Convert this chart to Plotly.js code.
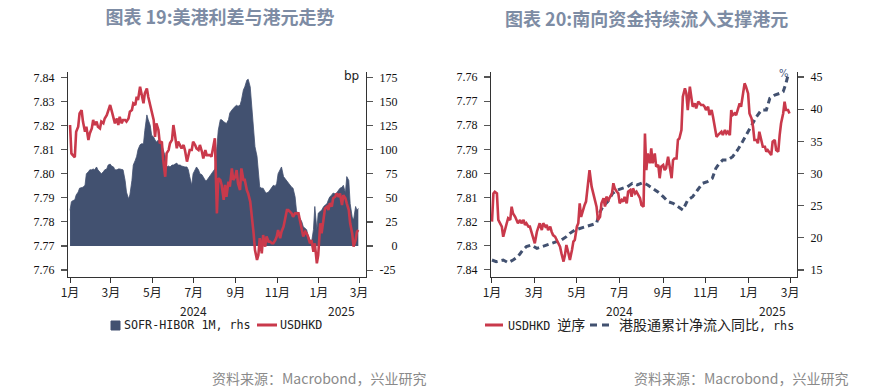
<!DOCTYPE html>
<html>
<head>
<meta charset="utf-8">
<script src="https://cdn.plot.ly/plotly-3.0.1.min.js"></script>
<style>
  html, body { margin: 0; padding: 0; background: #ffffff; }
  #chart { width: 883px; height: 391px; }
</style>
</head>
<body>
<div id="chart"></div>
<script>
// ---------------- DATA ----------------
// Left chart: daily-ish samples, 2024-01 .. 2025-02
const leftDates = [
  '2024-01-01','2024-01-03','2024-01-05','2024-01-08','2024-01-10','2024-01-13','2024-01-15','2024-01-18','2024-01-20','2024-01-23','2024-01-25','2024-01-28','2024-01-30',
  '2024-02-02','2024-02-04','2024-02-06','2024-02-09','2024-02-11','2024-02-14','2024-02-16','2024-02-19','2024-02-21','2024-02-24','2024-02-26','2024-02-29',
  '2024-03-02','2024-03-05','2024-03-07','2024-03-10','2024-03-12','2024-03-14','2024-03-17','2024-03-19','2024-03-22','2024-03-24','2024-03-27','2024-03-29',
  '2024-04-01','2024-04-03','2024-04-06','2024-04-08','2024-04-10','2024-04-13','2024-04-15','2024-04-18','2024-04-20','2024-04-23','2024-04-25','2024-04-28','2024-04-30',
  '2024-05-03','2024-05-05','2024-05-07','2024-05-10','2024-05-12','2024-05-15','2024-05-17','2024-05-20','2024-05-22','2024-05-25','2024-05-27','2024-05-30',
  '2024-06-01','2024-06-03','2024-06-06','2024-06-08','2024-06-11','2024-06-13','2024-06-16','2024-06-18','2024-06-21','2024-06-23','2024-06-25','2024-06-28','2024-06-30',
  '2024-07-03','2024-07-05','2024-07-08','2024-07-10','2024-07-13','2024-07-15','2024-07-18','2024-07-20','2024-07-22','2024-07-25','2024-07-27','2024-07-30',
  '2024-08-01','2024-08-04','2024-08-06','2024-08-09','2024-08-11','2024-08-14','2024-08-16','2024-08-18','2024-08-21','2024-08-23','2024-08-26','2024-08-28','2024-08-31',
  '2024-09-02','2024-09-04','2024-09-07','2024-09-09','2024-09-12','2024-09-14','2024-09-17','2024-09-19','2024-09-22','2024-09-24','2024-09-27','2024-09-29',
  '2024-10-02','2024-10-04','2024-10-06','2024-10-09','2024-10-11','2024-10-14','2024-10-16','2024-10-19','2024-10-21','2024-10-24','2024-10-26','2024-10-29','2024-10-31',
  '2024-11-02','2024-11-05','2024-11-07','2024-11-10','2024-11-12','2024-11-15','2024-11-17','2024-11-19','2024-11-22','2024-11-24','2024-11-27','2024-11-29',
  '2024-12-02','2024-12-04','2024-12-07','2024-12-09','2024-12-12','2024-12-14','2024-12-16','2024-12-19','2024-12-21','2024-12-24','2024-12-26','2024-12-29','2024-12-31',
  '2025-01-03','2025-01-05','2025-01-08','2025-01-10','2025-01-13','2025-01-15','2025-01-17','2025-01-20','2025-01-22','2025-01-25','2025-01-27','2025-01-30',
  '2025-02-01','2025-02-04','2025-02-06','2025-02-09','2025-02-11','2025-02-14','2025-02-16','2025-02-19','2025-02-21','2025-02-24','2025-02-26','2025-02-28'
];
// SOFR-HIBOR 1M spread, bp (right axis)
const sofrHiborSpread = [
  37,46,47,48,53,56,60,61,61,63,75,77,79,
  79,80,79,82,79,77,75,77,79,80,84,85,
  83,82,79,79,80,80,79,79,68,56,49,53,
  68,84,89,93,100,105,106,106,120,136,131,125,115,
  113,110,108,110,108,105,100,93,82,83,82,84,
  84,85,86,84,84,83,82,82,82,79,72,63,75,
  80,82,79,75,74,72,68,68,70,72,75,77,
  80,103,120,131,131,129,128,127,131,138,141,143,145,
  146,145,146,151,162,165,172,173,165,144,120,103,
  93,72,61,60,60,56,55,56,58,61,63,62,65,
  75,80,82,72,70,68,65,63,61,60,51,37,
  30,29,25,20,18,17,11,6,3,17,41,17,34,
  36,37,41,42,44,48,51,53,55,54,55,58,
  60,61,63,55,72,68,44,30,27,41,37,39
];
// USDHKD (left axis of left chart)
const usdhkdLeft = [
  7.8202,7.8084,7.8077,7.8068,7.8174,7.8195,7.8250,7.8264,7.8216,7.8174,7.8195,7.8140,7.8167,
  7.8188,7.8223,7.8202,7.8216,7.8195,7.8188,7.8216,7.8209,7.8229,7.8243,7.8257,7.8285,
  7.8264,7.8236,7.8209,7.8229,7.8202,7.8236,7.8209,7.8223,7.8223,7.8216,7.8229,7.8257,
  7.8264,7.8292,7.8285,7.8319,7.8306,7.8361,7.8326,7.8292,7.8333,7.8354,7.8319,7.8278,7.8250,
  7.8223,7.8153,7.8209,7.8181,7.8126,7.8133,7.8057,7.7987,7.8084,7.8098,7.8126,7.8140,
  7.8202,7.8167,7.8105,7.8133,7.8112,7.8105,7.8119,7.8098,7.8050,7.8070,7.8098,7.8098,7.8133,
  7.8119,7.8105,7.8098,7.8119,7.8091,7.8063,7.8098,7.8077,7.8077,7.8077,7.8070,7.8112,
  7.8147,7.7835,7.7981,7.7974,7.7953,7.7891,7.7953,7.7904,7.7967,7.7946,7.8022,7.7974,7.7987,
  7.8015,7.7960,7.7932,7.8022,7.7974,7.7974,7.7932,7.7918,7.7884,7.7835,7.7752,7.7683,
  7.7642,7.7662,7.7732,7.7669,7.7745,7.7697,7.7739,7.7718,7.7718,7.7711,7.7711,7.7725,7.7739,
  7.7766,7.7732,7.7759,7.7780,7.7808,7.7849,7.7849,7.7842,7.7835,7.7821,7.7835,7.7835,
  7.7835,7.7808,7.7766,7.7739,7.7759,7.7752,7.7739,7.7711,7.7725,7.7676,7.7711,7.7628,7.7662,
  7.7794,7.7752,7.7821,7.7856,7.7863,7.7849,7.7877,7.7863,7.7898,7.7904,7.7918,7.7904,
  7.7918,7.7870,7.7911,7.7898,7.7877,7.7849,7.7794,7.7752,7.7697,7.7725,7.7759,7.7766
];

// Right chart
const rightDates = [
  '2024-01-01','2024-01-03','2024-01-05','2024-01-08','2024-01-10','2024-01-12','2024-01-15','2024-01-17','2024-01-20','2024-01-22','2024-01-24','2024-01-27','2024-01-29','2024-01-31',
  '2024-02-03','2024-02-05','2024-02-07','2024-02-10','2024-02-12','2024-02-15','2024-02-17','2024-02-19','2024-02-22','2024-02-24','2024-02-27','2024-02-29',
  '2024-03-02','2024-03-05','2024-03-07','2024-03-09','2024-03-12','2024-03-14','2024-03-17','2024-03-19','2024-03-21','2024-03-24','2024-03-26','2024-03-28','2024-03-31',
  '2024-04-02','2024-04-04','2024-04-07','2024-04-09','2024-04-12','2024-04-14','2024-04-16','2024-04-19','2024-04-21','2024-04-24','2024-04-26','2024-04-28',
  '2024-05-01','2024-05-03','2024-05-05','2024-05-07','2024-05-10','2024-05-12','2024-05-14','2024-05-17','2024-05-19','2024-05-22','2024-05-24','2024-05-26','2024-05-29','2024-05-31',
  '2024-06-03','2024-06-05','2024-06-08','2024-06-10','2024-06-12','2024-06-15','2024-06-17','2024-06-20','2024-06-22','2024-06-24','2024-06-27','2024-06-29',
  '2024-07-01','2024-07-04','2024-07-06','2024-07-08','2024-07-11','2024-07-13','2024-07-16','2024-07-18','2024-07-20','2024-07-23','2024-07-25','2024-07-28','2024-07-30',
  '2024-08-01','2024-08-04','2024-08-06','2024-08-08','2024-08-10','2024-08-13','2024-08-15','2024-08-17','2024-08-20','2024-08-22','2024-08-25','2024-08-27','2024-08-29',
  '2024-09-01','2024-09-03','2024-09-05','2024-09-08','2024-09-10','2024-09-13','2024-09-15','2024-09-17','2024-09-20','2024-09-22','2024-09-24','2024-09-27','2024-09-29',
  '2024-10-02','2024-10-04','2024-10-06','2024-10-09','2024-10-11','2024-10-13','2024-10-16','2024-10-18','2024-10-21','2024-10-23','2024-10-25','2024-10-28','2024-10-30',
  '2024-11-01','2024-11-04','2024-11-06','2024-11-09','2024-11-11','2024-11-13','2024-11-16','2024-11-18','2024-11-20','2024-11-23','2024-11-25','2024-11-28','2024-11-30',
  '2024-12-02','2024-12-05','2024-12-07','2024-12-09','2024-12-12','2024-12-14','2024-12-17','2024-12-19','2024-12-21','2024-12-24','2024-12-26','2024-12-28','2024-12-31',
  '2025-01-02','2025-01-05','2025-01-07','2025-01-09','2025-01-12','2025-01-14','2025-01-16','2025-01-19','2025-01-21','2025-01-24','2025-01-26','2025-01-28','2025-01-31',
  '2025-02-02','2025-02-04','2025-02-07','2025-02-09','2025-02-12','2025-02-14','2025-02-16','2025-02-19','2025-02-21','2025-02-23','2025-02-26','2025-02-28'
];
// USDHKD (reversed left axis of right chart)
const usdhkdRight = [
  7.8200,7.8083,7.8076,7.8083,7.8193,7.8207,7.8221,7.8263,7.8221,7.8207,7.8186,7.8193,7.8138,7.8166,
  7.8180,7.8193,7.8207,7.8193,7.8207,7.8193,7.8214,7.8207,7.8221,7.8221,7.8249,7.8263,
  7.8290,7.8242,7.8228,7.8207,7.8235,7.8207,7.8221,7.8214,7.8235,7.8221,7.8242,7.8256,7.8263,
  7.8276,7.8283,7.8304,7.8332,7.8366,7.8339,7.8297,7.8332,7.8359,7.8318,7.8283,7.8276,
  7.8221,7.8207,7.8124,7.8180,7.8145,7.8131,7.8117,7.8041,7.7986,7.8055,7.8083,7.8097,7.8138,7.8193,
  7.8180,7.8124,7.8103,7.8138,7.8097,7.8110,7.8097,7.8083,7.8041,7.8062,7.8076,7.8083,
  7.8124,7.8110,7.8117,7.8097,7.8124,7.8076,7.8069,7.8097,7.8062,7.8083,7.8076,7.8090,7.8103,
  7.8131,7.8138,7.7834,7.7986,7.7917,7.7958,7.7896,7.7958,7.7917,7.7972,7.7965,7.8020,7.7972,
  7.7965,7.7986,7.7979,7.7931,7.7972,7.8020,7.7945,7.7938,7.7938,7.7861,7.7855,7.7820,7.7682,
  7.7647,7.7668,7.7737,7.7640,7.7695,7.7723,7.7709,7.7730,7.7702,7.7709,7.7716,7.7716,7.7723,
  7.7737,7.7723,7.7758,7.7737,7.7765,7.7806,7.7848,7.7841,7.7834,7.7827,7.7841,7.7820,7.7834,
  7.7827,7.7841,7.7737,7.7758,7.7751,7.7758,7.7723,7.7709,7.7723,7.7661,7.7626,7.7640,7.7668,
  7.7751,7.7772,7.7806,7.7861,7.7861,7.7875,7.7827,7.7868,7.7889,7.7889,7.7910,7.7903,7.7917,
  7.7924,7.7868,7.7861,7.7903,7.7910,7.7841,7.7792,7.7751,7.7702,7.7737,7.7737,7.7751
];
// Southbound cumulative net inflow YoY, % (right axis)
const southboundDates = [
  '2024-01-01','2024-01-07','2024-01-17','2024-01-24','2024-01-31','2024-02-07','2024-02-14','2024-02-19','2024-02-26',
  '2024-03-05','2024-03-12','2024-03-19','2024-03-26','2024-04-02','2024-04-09','2024-04-16','2024-04-21','2024-04-28',
  '2024-05-05','2024-05-12','2024-05-19','2024-05-29','2024-06-02','2024-06-07','2024-06-14','2024-06-21','2024-06-28',
  '2024-07-05','2024-07-12','2024-07-19','2024-07-26','2024-08-03','2024-08-10','2024-08-17','2024-08-24',
  '2024-09-01','2024-09-08','2024-09-15','2024-09-22','2024-09-29','2024-10-06','2024-10-13','2024-10-20','2024-10-27',
  '2024-11-03','2024-11-10','2024-11-15','2024-11-20','2024-11-25','2024-12-02','2024-12-09','2024-12-16','2024-12-23','2024-12-31',
  '2025-01-07','2025-01-12','2025-01-19','2025-01-26','2025-01-31','2025-02-07','2025-02-14','2025-02-19','2025-02-23','2025-02-26'
];
const southboundYoY = [
  16.56,16.30,16.56,16.15,16.56,17.08,18.12,18.63,18.89,
  18.37,18.63,18.89,19.15,19.41,19.67,20.19,20.70,21.22,
  21.48,21.74,22.00,22.26,23.81,24.85,25.63,26.92,27.44,
  27.70,27.96,28.48,28.22,28.58,28.22,27.70,27.18,
  26.40,25.63,25.37,24.85,24.33,25.89,26.40,27.44,28.48,
  28.74,29.25,30.81,31.58,32.10,32.10,32.62,33.66,34.95,36.50,
  38.06,38.84,39.87,39.87,41.69,42.20,42.46,42.72,44.02,45.31
];

// Tick labels
const monthTickDates = ['2024-01-01','2024-03-01','2024-05-01','2024-07-01','2024-09-01','2024-11-01','2025-01-01','2025-03-01'];
const monthTickLabels = ['1月','3月','5月','7月','9月','11月','1月','3月'];
const usdTicks = [7.76,7.77,7.78,7.79,7.80,7.81,7.82,7.83,7.84];
const bpTicks = [-25,0,25,50,75,100,125,150,175];
const pctTicks = [15,20,25,30,35,40,45];

// ---------------- STYLE ----------------
const RED = '#c9394b';
const NAVY = '#425170';
const AXIS = '#333333';
const serifTick = {family: 'Liberation Serif, serif', size: 12, color: '#111111'};
const monthFont = {family: 'Noto Sans CJK SC, sans-serif', size: 12, color: '#222222'};
const legendFont = {family: 'DejaVu Sans Mono, Noto Sans CJK SC, monospace', size: 11.7, color: '#222222'};
const W = 883, H = 391;
const px = v => v / W;
const py = v => 1 - v / H;

const yDomain = [py(277), py(72)];

const bpTickText = bpTicks.map(v => {
  const s = String(v);
  if (v < 0) return s;
  return '\u2007'.repeat(Math.max(0, 3 - s.length)) + s;
});

const baseX = {
  type: 'date', showgrid: false, zeroline: false, showline: true, linecolor: AXIS, linewidth: 1,
  ticks: 'outside', ticklen: 5, tickcolor: AXIS, tickwidth: 1,
  tickvals: monthTickDates, ticktext: monthTickLabels, tickfont: monthFont, fixedrange: true
};
const baseY = {
  showgrid: false, zeroline: false, showline: true, linecolor: AXIS, linewidth: 1,
  ticks: 'outside', ticklen: 6, tickcolor: '#555555', tickwidth: 1.2, tickfont: serifTick,
  ticklabelstandoff: 4, fixedrange: true
};

const traces = [
  {x: leftDates, y: sofrHiborSpread, type: 'scatter', mode: 'lines', fill: 'tozeroy',
   fillcolor: NAVY, line: {color: NAVY, width: 0.8}, xaxis: 'x', yaxis: 'y', name: 'SOFR-HIBOR 1M, rhs', showlegend: false},
  {x: leftDates, y: usdhkdLeft, type: 'scatter', mode: 'lines',
   line: {color: RED, width: 2.6}, xaxis: 'x', yaxis: 'y2', name: 'USDHKD', showlegend: false},
  {x: southboundDates, y: southboundYoY, type: 'scatter', mode: 'lines',
   line: {color: NAVY, width: 3, dash: '6px,4px'}, xaxis: 'x2', yaxis: 'y3', name: '港股通累计净流入同比, rhs', showlegend: false},
  {x: rightDates, y: usdhkdRight, type: 'scatter', mode: 'lines',
   line: {color: RED, width: 2.6}, xaxis: 'x2', yaxis: 'y4', name: 'USDHKD 逆序', showlegend: false}
];

const ann = (o) => Object.assign({showarrow: false, xref: 'paper', yref: 'paper'}, o);

const layout = {
  width: W, height: H,
  margin: {l: 0, r: 0, t: 0, b: 0},
  paper_bgcolor: '#ffffff', plot_bgcolor: '#ffffff',
  font: {family: 'Noto Sans CJK SC, sans-serif'},
  showlegend: false,
  title: {
    text: '图表 19:美港利差与港元走势',
    x: px(220), xanchor: 'center', xref: 'paper',
    y: py(17.5), yanchor: 'middle', yref: 'paper',
    font: {family: 'Noto Sans CJK SC, sans-serif', size: 18, color: '#7d8ca4', weight: 'bold'}
  },
  xaxis: Object.assign({}, baseX, {domain: [px(68), px(366)], anchor: 'y',
    range: ['2023-12-29 00:00', '2025-03-11 07:00']}),
  yaxis: Object.assign({}, baseY, {domain: yDomain, anchor: 'x', side: 'right',
    range: [-32.1, 180.5], tickvals: bpTicks, ticktext: bpTickText}),
  yaxis2: Object.assign({}, baseY, {overlaying: 'y', anchor: 'x', side: 'left',
    range: [7.7571, 7.8422], tickvals: usdTicks, tickformat: '.2f'}),
  xaxis2: Object.assign({}, baseX, {domain: [px(491), px(797)], anchor: 'y3',
    range: ['2023-12-30 14:00', '2025-03-10 17:00']}),
  yaxis3: Object.assign({}, baseY, {domain: yDomain, anchor: 'x2', side: 'right',
    range: [13.92, 45.78], tickvals: pctTicks}),
  yaxis4: Object.assign({}, baseY, {overlaying: 'y3', anchor: 'x2', side: 'left',
    range: [7.843, 7.7579], tickvals: usdTicks, tickformat: '.2f'}),
  annotations: [
    ann({text: '图表 20:南向资金持续流入支撑港元', x: px(646), y: py(17.5), xanchor: 'center', yanchor: 'middle',
      font: {family: 'Noto Sans CJK SC, sans-serif', size: 18, color: '#7d8ca4', weight: 'bold'}}),
    // year labels
    ann({text: '2024', xref: 'x', x: '2024-07-01', y: py(310), xanchor: 'center', yanchor: 'middle', font: monthFont}),
    ann({text: '2025', xref: 'x', x: '2025-02-03', y: py(310), xanchor: 'center', yanchor: 'middle', font: monthFont}),
    ann({text: '2024', xref: 'x2', x: '2024-07-01', y: py(310), xanchor: 'center', yanchor: 'middle', font: monthFont}),
    ann({text: '2025', xref: 'x2', x: '2025-02-04', y: py(310), xanchor: 'center', yanchor: 'middle', font: monthFont}),
    // unit labels
    ann({text: 'bp', x: px(361), y: py(76), xanchor: 'right', yanchor: 'middle',
      font: {family: 'DejaVu Sans, sans-serif', size: 12, color: '#222222'}}),
    ann({text: '%', x: px(791), y: py(73), xanchor: 'right', yanchor: 'middle',
      font: {family: 'DejaVu Sans, sans-serif', size: 10, color: '#4a5a85'}}),
    // legends
    ann({text: 'SOFR-HIBOR 1M, rhs', x: px(122), y: py(325), xanchor: 'left', yanchor: 'middle', font: legendFont}),
    ann({text: 'USDHKD', x: px(278), y: py(325), xanchor: 'left', yanchor: 'middle', font: legendFont}),
    ann({text: 'USDHKD <span style="font-size:14px">逆序</span>', x: px(506), y: py(325), xanchor: 'left', yanchor: 'middle', font: legendFont}),
    ann({text: '<span style="font-size:14px">港股通累计净流入同比</span>, rhs', x: px(617), y: py(325), xanchor: 'left', yanchor: 'middle', font: legendFont}),
    // sources
    ann({text: '资料来源：Macrobond，兴业研究', x: px(210), y: py(378), xanchor: 'left', yanchor: 'middle',
      font: {family: 'Noto Sans CJK SC, sans-serif', size: 14, color: '#8a8a8a'}}),
    ann({text: '资料来源：Macrobond，兴业研究', x: px(632), y: py(378), xanchor: 'left', yanchor: 'middle',
      font: {family: 'Noto Sans CJK SC, sans-serif', size: 14, color: '#8a8a8a'}})
  ],
  shapes: [
    {type: 'rect', xref: 'paper', yref: 'paper', x0: px(111), x1: px(120), y0: py(330), y1: py(321),
      fillcolor: NAVY, line: {color: NAVY, width: 1}},
    {type: 'line', xref: 'paper', yref: 'paper', x0: px(257), x1: px(277), y0: py(325), y1: py(325),
      line: {color: RED, width: 3}},
    {type: 'line', xref: 'paper', yref: 'paper', x0: px(485), x1: px(503), y0: py(325), y1: py(325),
      line: {color: RED, width: 3}},
    {type: 'line', xref: 'paper', yref: 'paper', x0: px(590), x1: px(613), y0: py(325), y1: py(325),
      line: {color: NAVY, width: 3, dash: '7px,5px'}}
  ]
};

Plotly.newPlot('chart', traces, layout, {displayModeBar: false, staticPlot: true});
</script>
</body>
</html>
